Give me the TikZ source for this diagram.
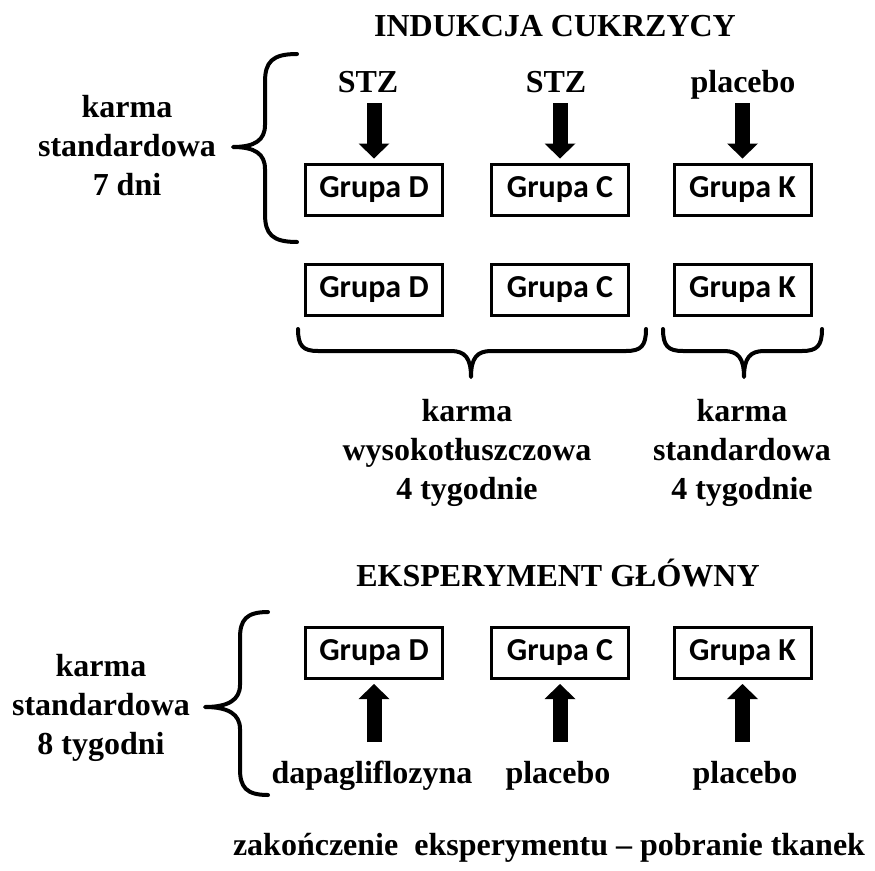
\documentclass[tikz,border=0pt]{standalone}
\usepackage{fontspec}
\setmainfont{Liberation Serif}
\newfontfamily\grpfont{Carlito}
\usetikzlibrary{arrows.meta,calc}
\begin{document}
\begin{tikzpicture}[x=1pt,y=-1pt,
  lbl/.style={font=\bfseries\fontsize{32}{39}\selectfont, align=center, anchor=base, inner sep=0pt},
  grp/.style={draw, line width=3pt, minimum width=137pt, minimum height=51pt, inner sep=0pt,
    font=\grpfont\bfseries\fontsize{32}{38}\selectfont},
  bigarrow/.style={line width=15pt, -{Triangle[width=31pt,length=15pt,line width=0pt]}},
  bracepath/.style={line width=4pt, line cap=round, line join=round}]
\useasboundingbox (0,0) rectangle (875,870);

% titles
\node[lbl] (t1) at (555,36) {INDUKCJA CUKRZYCY};
\node[lbl] (t2) at (558,586) {EKSPERYMENT GŁÓWNY};

% induction section
\node[lbl] (diet1) at (127,195) {karma\\standardowa\\7 dni};
\node[lbl] (stz1) at (368,92) {STZ};
\node[lbl] (stz2) at (556,92) {STZ};
\node[lbl] (plc1) at (743,92) {placebo};

\node[grp] (gD1) at (374,190) {Grupa D};
\node[grp] (gC1) at (560,190) {Grupa C};
\node[grp] (gK1) at (742.5,190) {Grupa K};

\foreach \t/\b in {stz1/gD1, stz2/gC1, plc1/gK1}{
  \draw[bigarrow] ($(\b.north |- \t.base)+(0,11)$) -- ($(\b.north)+(0,-4.5)$);
}

\node[grp] (gD2) at (374,290) {Grupa D};
\node[grp] (gC2) at (560,290) {Grupa C};
\node[grp] (gK2) at (742.5,290) {Grupa K};

\node[lbl] (diet2) at (467,499) {karma\\wysokotłuszczowa\\4 tygodnie};
\node[lbl] (diet3) at (742,499) {karma\\standardowa\\4 tygodnie};

% main experiment
\node[lbl] (diet4) at (101,754) {karma\\standardowa\\8 tygodni};
\node[grp] (gD3) at (374,652.5) {Grupa D};
\node[grp] (gC3) at (560,652.5) {Grupa C};
\node[grp] (gK3) at (742.5,652.5) {Grupa K};

\node[lbl] (dapa) at (372,783) {dapagliflozyna};
\node[lbl] (plc2) at (558,783) {placebo};
\node[lbl] (plc3) at (745,783) {placebo};

\foreach \t/\b in {dapa/gD3, plc2/gC3, plc3/gK3}{
  \draw[bigarrow] ($(\b.south |- \t.base)+(0,-41)$) -- ($(\b.south)+(0,4.5)$);
}

\node[lbl] (end) at (549,855) {zakończenie\ \ eksperymentu – pobranie tkanek};

% braces
\draw[bracepath] (297,54) .. controls (272,54) and (265,62) .. (265,82) -- (265,125)
  .. controls (265,140) and (255,147) .. (233,147)
  .. controls (255,147) and (265,154) .. (265,169) -- (265,214)
  .. controls (265,234) and (272,242) .. (297,242);

\draw[bracepath] (268,612) .. controls (246,612) and (240,620) .. (240,638) -- (240,685)
  .. controls (240,700) and (228,707) .. (205,707)
  .. controls (228,707) and (240,714) .. (240,729) -- (240,769)
  .. controls (240,787) and (246,795) .. (268,795);

\draw[bracepath] (298,329) .. controls (298,346) and (303,351) .. (318,351) -- (451,351)
  .. controls (465,351) and (471,358) .. (471,377)
  .. controls (471,358) and (477,351) .. (491,351) -- (626,351)
  .. controls (641,351) and (646,346) .. (646,329);

\draw[bracepath] (663,329) .. controls (663,346) and (668,351) .. (683,351) -- (724,351)
  .. controls (738,351) and (744,358) .. (744,377)
  .. controls (744,358) and (750,351) .. (764,351) -- (802,351)
  .. controls (817,351) and (822,346) .. (822,329);
\end{tikzpicture}
\end{document}
